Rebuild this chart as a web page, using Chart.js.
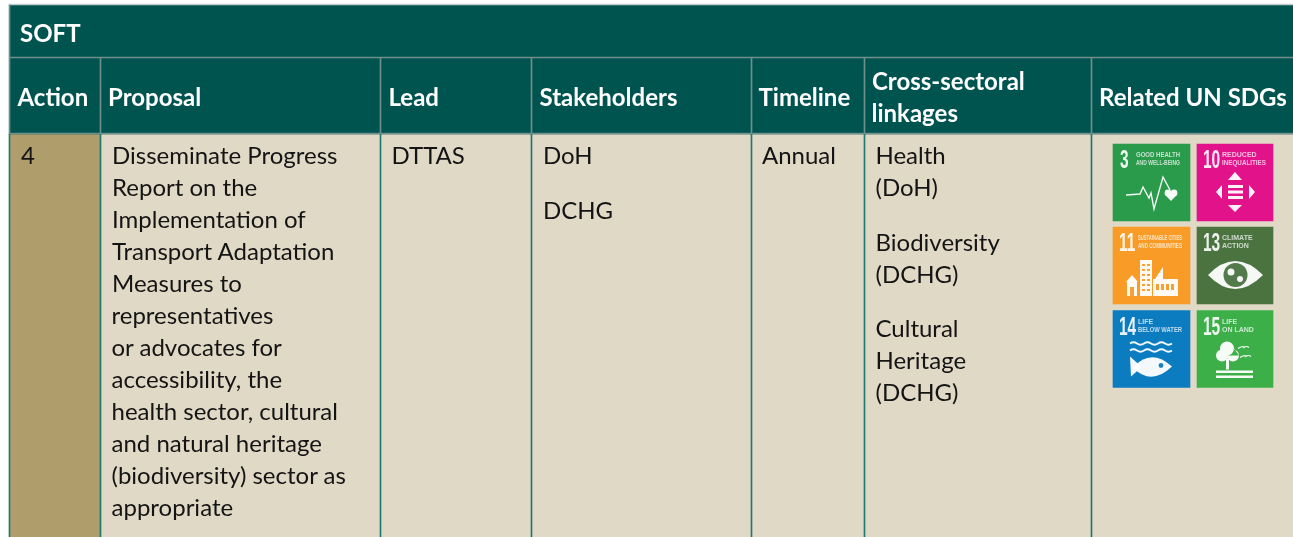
<!DOCTYPE html>
<html lang="en">
<head>
<meta charset="UTF-8">
<title>Soft action table</title>
<script src="https://cdn.jsdelivr.net/npm/chart.js"></script>
<style>
    html, body { margin: 0; padding: 0; background: #fff; overflow: hidden; }
    canvas { display: block; }
</style>
</head>
<body>
<canvas id="table" width="1293" height="537"></canvas>
<script>
// table content
const sectionTitle = 'SOFT';
const actionNumber = '4';
const proposalLines = ['Disseminate Progress', 'Report on the', 'Implementation of', 'Transport Adaptation', 'Measures to', 'representatives',
    'or advocates for', 'accessibility, the', 'health sector, cultural', 'and natural heritage', '(biodiversity) sector as', 'appropriate'];
const leadLines = ['DTTAS'];
const stakeholderLines = ['DoH', 'DCHG'];
const timelineLines = ['Annual'];
const linkageLines = ['Health', '(DoH)', 'Biodiversity', '(DCHG)', 'Cultural', 'Heritage', '(DCHG)'];

const sdgNumbers = ['3', '10', '11', '13', '14', '15'];
const sdgLabels = [['GOOD HEALTH', 'AND WELL-BEING'], ['REDUCED', 'INEQUALITIES'], ['SUSTAINABLE CITIES', 'AND COMMUNITIES'],
    ['CLIMATE', 'ACTION'], ['LIFE', 'BELOW WATER'], ['LIFE', 'ON LAND']];
const sdgColors = ['#2a9a4b', '#e2128a', '#f89c27', '#4a7340', '#0c7cc0', '#3daf49'];

// layout, in canvas pixels
const colEdges = [10, 100, 380, 531, 751, 864, 1091, 1293];
const rowEdges = [5, 58, 134, 537];
const iconCols = [[1113, 1190], [1197, 1273]];
const iconRows = [[144, 221], [227, 304], [311, 387]];

const TEAL = '#005450', GOLD = '#af9d6b', BEIGE = '#e0d9c6';
const HEAD_RULE = '#6f8f8b', BODY_RULE = '#1c7a70';

const span = (x0, x1, y0, y1) => ({ x: [x0, x1], y: (y0 + y1) / 2 });
const band = (label, data, color, thickness) => ({ label, data, backgroundColor: color, barThickness: thickness, grouped: false, borderWidth: 0 });

const [tableTop, titleEnd, headEnd, tableEnd] = rowEdges;
const tableLeft = colEdges[0], tableRight = colEdges[colEdges.length - 1];
const innerEdges = colEdges.slice(1, -1);
const iconCells = iconRows.flatMap(r => iconCols.map(c => span(c[0], c[1], r[0], r[1])));

// the first dataset ends up on top
const datasets = [
    band('Icons', iconCells, sdgColors, iconRows[0][1] - iconRows[0][0]),
    band('Head rules', innerEdges.map(e => span(e, e + 1, titleEnd, headEnd)), HEAD_RULE, headEnd - titleEnd),
    band('Body rules', [tableLeft - 1, ...innerEdges].map(e => span(e, e + 1, headEnd, tableEnd)), BODY_RULE, tableEnd - headEnd),
    band('Left edge', [span(tableLeft - 1, tableLeft, tableTop, headEnd)], HEAD_RULE, headEnd - tableTop),
    band('Top edge', [span(tableLeft - 1, tableRight, tableTop - 1, tableTop)], '#c4d0ce', 1),
    band('Title rule', [span(tableLeft, tableRight, titleEnd - 1, titleEnd)], HEAD_RULE, 1),
    band('Head rule', [span(tableLeft, tableRight, headEnd - 1, headEnd)], HEAD_RULE, 1),
    band('Title', [span(tableLeft, tableRight, tableTop, titleEnd)], TEAL, titleEnd - tableTop),
    band('Header', [span(tableLeft, tableRight, titleEnd, headEnd)], TEAL, headEnd - titleEnd),
    band('Action cell', [span(colEdges[0], colEdges[1], headEnd, tableEnd)], GOLD, tableEnd - headEnd),
    band('Body', [span(colEdges[1], tableRight, headEnd, tableEnd)], BEIGE, tableEnd - headEnd)
];

function text(ctx, sx, sy, str, x, y, font, color) {
    ctx.font = font;
    ctx.fillStyle = color;
    ctx.textBaseline = 'middle';
    ctx.fillText(str, sx.getPixelForValue(x), sy.getPixelForValue(y));
}

function poly(ctx, pts) {
    ctx.beginPath();
    pts.forEach((p, i) => i ? ctx.lineTo(p[0], p[1]) : ctx.moveTo(p[0], p[1]));
    ctx.closePath();
    ctx.fill();
}

// pictograms, drawn in the 77px space of one icon
const glyphs = [
    ctx => {
        ctx.lineWidth = 1.4;
        ctx.beginPath();
        [[13, 51], [27, 50], [30, 43], [36, 54], [38, 49], [41, 65], [50, 33], [57, 46]].forEach((p, i) => i ? ctx.lineTo(p[0], p[1]) : ctx.moveTo(p[0], p[1]));
        ctx.stroke();
        ctx.beginPath();
        ctx.arc(55, 49, 3.4, 0, 7); ctx.arc(61, 49, 3.4, 0, 7);
        ctx.fill();
        poly(ctx, [[51.8, 50.5], [64.2, 50.5], [58, 57]]);
    },
    ctx => {
        poly(ctx, [[38, 28], [45, 36], [31, 36]]);
        poly(ctx, [[38, 68], [45, 61], [31, 61]]);
        poly(ctx, [[19, 48], [25, 41], [25, 55]]);
        poly(ctx, [[58, 48], [52, 41], [52, 55]]);
        [41, 46.5, 52].forEach(y => ctx.fillRect(31, y, 15, 3));
    },
    ctx => {
        ctx.fillRect(27, 33, 12, 36);
        ctx.fillRect(40, 52, 25, 17);
        poly(ctx, [[42, 52], [50, 40], [50, 52]]);
        poly(ctx, [[13, 55], [19, 48], [25, 55]]);
        ctx.fillRect(14, 55, 10, 14);
        ctx.fillStyle = sdgColors[2];
        for (let y = 37; y < 66; y += 5) { ctx.fillRect(29, y, 3, 2); ctx.fillRect(34, y, 3, 2); }
        ctx.fillRect(17, 60, 4, 9);
        for (let x = 43; x < 63; x += 5) ctx.fillRect(x, 57, 3, 6);
    },
    ctx => {
        ctx.beginPath();
        ctx.moveTo(11, 48);
        ctx.quadraticCurveTo(38, 20, 66, 48);
        ctx.quadraticCurveTo(38, 76, 11, 48);
        ctx.fill();
        ctx.fillStyle = sdgColors[3];
        ctx.beginPath();
        ctx.arc(38.5, 48, 12, 0, 7);
        ctx.fill();
        ctx.fillStyle = '#fff';
        ctx.beginPath();
        ctx.arc(34, 45, 3.5, 0, 7); ctx.arc(43, 52, 3, 0, 7);
        ctx.fill();
    },
    ctx => {
        ctx.lineWidth = 1.8;
        [33, 40].forEach(y => {
            ctx.beginPath();
            ctx.moveTo(17, y);
            for (let x = 17; x < 59; x += 7) ctx.quadraticCurveTo(x + 3.5, y + (((x - 17) / 7) % 2 ? 2.5 : -2.5), x + 7, y);
            ctx.stroke();
        });
        ctx.beginPath();
        ctx.moveTo(20, 57);
        ctx.quadraticCurveTo(38, 37, 59, 56);
        ctx.quadraticCurveTo(38, 76, 20, 57);
        ctx.fill();
        poly(ctx, [[17, 46], [27, 55], [27, 58], [18, 66]]);
        ctx.fillStyle = sdgColors[4];
        ctx.beginPath();
        ctx.arc(48, 55, 2.4, 0, 7);
        ctx.fill();
    },
    ctx => {
        ctx.beginPath();
        ctx.arc(30, 38, 7, 0, 7); ctx.arc(25, 45, 6, 0, 7); ctx.arc(36, 45, 6, 0, 7);
        ctx.fill();
        ctx.fillRect(29, 48, 3, 11);
        ctx.fillRect(19, 60, 37, 2.5);
        ctx.fillRect(19, 65, 37, 2.5);
        ctx.lineWidth = 1.2;
        [[41, 38], [43, 47]].forEach(p => {
            ctx.beginPath();
            ctx.moveTo(p[0], p[1]);
            ctx.quadraticCurveTo(p[0] + 5, p[1] - 3, p[0] + 6, p[1] - 1);
            ctx.quadraticCurveTo(p[0] + 8, p[1] - 3, p[0] + 11, p[1] - 1);
            ctx.stroke();
        });
    }
];

const tableText = {
    id: 'tableText',
    afterDatasetsDraw(chart) {
        const { ctx, scales: { x: sx, y: sy } } = chart;
        const body = '24px Lato, Carlito, sans-serif';
        const head = 'bold 24px Lato, Carlito, sans-serif';
        const dark = '#141414';
        ctx.save();
        ctx.textAlign = 'left';
        ctx.fontKerning = 'normal';

        text(ctx, sx, sy, sectionTitle, 20, 34, head, '#fff');
        text(ctx, sx, sy, 'Action', 17.5, 98, head, '#fff');
        text(ctx, sx, sy, 'Proposal', 108, 98, head, '#fff');
        text(ctx, sx, sy, 'Lead', 388.5, 98, head, '#fff');
        text(ctx, sx, sy, 'Stakeholders', 539.5, 98, head, '#fff');
        text(ctx, sx, sy, 'Timeline', 758.5, 98, head, '#fff');
        text(ctx, sx, sy, 'Cross-sectoral', 872, 82, head, '#fff');
        text(ctx, sx, sy, 'linkages', 871.5, 114, head, '#fff');
        text(ctx, sx, sy, 'Related UN SDGs', 1099, 98, head, '#fff');

        text(ctx, sx, sy, actionNumber, 21, 156, body, dark);
        proposalLines.forEach((s, i) => text(ctx, sx, sy, s, i < 5 ? 112 : 111.5, 156 + i * 32, body, dark));
        text(ctx, sx, sy, leadLines[0], 391.5, 156, body, dark);
        [156, 211].forEach((y, i) => text(ctx, sx, sy, stakeholderLines[i], 543, y, body, dark));
        text(ctx, sx, sy, timelineLines[0], 762, 156, body, dark);
        [156, 188, 243, 275, 329, 361, 393].forEach((y, i) => text(ctx, sx, sy, linkageLines[i], 875.5, y, body, dark));

        iconCells.forEach((cell, i) => {
            const ox = sx.getPixelForValue(cell.x[0]);
            const oy = sy.getPixelForValue(cell.y) - 38.5;
            const wide = sdgNumbers[i].length > 1;
            ctx.save();
            ctx.translate(ox, oy);
            ctx.fillStyle = '#fff';
            ctx.strokeStyle = '#fff';
            ctx.globalAlpha = 0.9;
            ctx.font = 'bold 25px "Liberation Sans Narrow", "Liberation Sans", sans-serif';
            ctx.textBaseline = 'alphabetic';
            ctx.save();
            ctx.scale(0.62, 1);
            ctx.fillText(sdgNumbers[i], (wide ? 6 : 7) / 0.62, 24);
            ctx.restore();
            ctx.font = 'bold 7px "Liberation Sans Narrow", "Liberation Sans", sans-serif';
            ctx.globalAlpha = 0.72;
            const lx = wide ? 25 : 23;
            ctx.fillText(sdgLabels[i][0], lx, 13, 44);
            ctx.fillText(sdgLabels[i][1], lx, 21, 44);
            ctx.globalAlpha = 0.95;
            glyphs[i](ctx);
            ctx.restore();
        });
        ctx.restore();
    }
};

new Chart(document.getElementById('table'), {
    type: 'bar',
    data: { datasets },
    plugins: [tableText],
    options: {
        indexAxis: 'y',
        responsive: false,
        animation: false,
        layout: { padding: 0 },
        plugins: { legend: { display: false }, tooltip: { enabled: false } },
        scales: {
            x: { type: 'linear', min: 0, max: 1293, display: false },
            y: { type: 'linear', min: 0, max: 537, reverse: true, offset: false, display: false }
        }
    }
});
</script>
</body>
</html>
